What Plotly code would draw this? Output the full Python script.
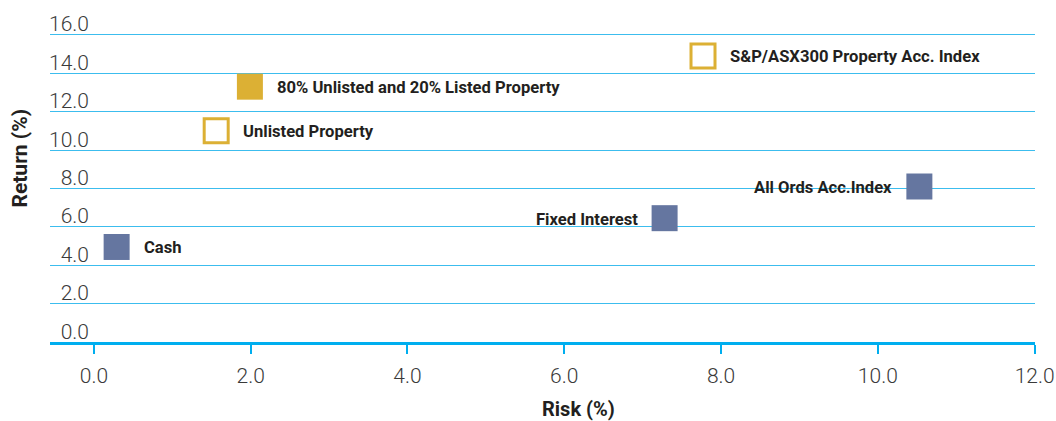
import plotly.graph_objects as go

# ---- data ----
names = ["Cash", "80% Unlisted and 20% Listed Property", "Unlisted Property",
         "S&P/ASX300 Property Acc. Index", "All Ords Acc.Index", "Fixed Interest"]
risk = [0.29, 1.99, 1.56, 7.77, 10.53, 7.28]
ret = [4.95, 13.3, 11.0, 14.9, 8.1, 6.45]
kind = ["filled_blue", "filled_gold", "open_gold", "open_gold", "filled_blue", "filled_blue"]
label_side = ["right", "right", "right", "right", "left", "left"]

x_ticks = [0, 2, 4, 6, 8, 10, 12]
y_ticks = [0, 2, 4, 6, 8, 10, 12, 14, 16]

BLUE = "#6576a0"
GOLD = "#dcb034"
CYAN = "#00aeef"
GRID = "#3cbdee"
TXT = "#231f20"
FONT = "Roboto, Liberation Sans, Arial, sans-serif"

fig = go.Figure()

for n, xv, yv, k in zip(names, risk, ret, kind):
    if k == "filled_blue":
        m = dict(symbol="square", size=26, color=BLUE, line=dict(width=0))
    elif k == "filled_gold":
        m = dict(symbol="square", size=26, color=GOLD, line=dict(width=0))
    else:
        m = dict(symbol="square-open", size=24, color=GOLD, line=dict(width=3))
    fig.add_trace(go.Scatter(x=[xv], y=[yv], mode="markers", marker=m,
                             name=n, showlegend=False, hoverinfo="skip", cliponaxis=False))

for n, xv, yv, s in zip(names, risk, ret, label_side):
    fig.add_annotation(x=xv, y=yv, xref="x", yref="y", text=n, showarrow=False,
                       xanchor="left" if s == "right" else "right",
                       yanchor="middle",
                       xshift=25 if s == "right" else -25, yshift=-1,
                       font=dict(family=FONT, size=16.6, color=TXT, weight="bold"))

fig.add_annotation(x=-0.0305, y=0.593, xref="paper", yref="paper", text="Return (%)",
                   textangle=-90, showarrow=False, xanchor="center", yanchor="middle",
                   font=dict(family=FONT, size=21, color=TXT, weight="bold"))
fig.add_annotation(x=0.537, y=-0.215, xref="paper", yref="paper", text="Risk (%)",
                   showarrow=False, xanchor="center", yanchor="middle",
                   font=dict(family=FONT, size=20, color=TXT, weight="bold"))

fig.update_xaxes(range=[-0.56, 12.005], tickvals=x_ticks,
                 ticktext=[f"{v:.1f}" for v in x_ticks],
                 showgrid=False, zeroline=False, automargin=False,
                 showline=True, linewidth=3, linecolor=CYAN,
                 ticks="outside", ticklen=9, tickwidth=2, tickcolor=CYAN,
                 ticklabelstandoff=4, ticklabeloverflow="allow",
                 tickfont=dict(family=FONT, size=21, color="#3a3a3a", weight=300))
fig.update_yaxes(range=[0, 16.2], tickvals=y_ticks,
                 ticktext=[f"{v:.1f}" for v in y_ticks],
                 showgrid=True, gridcolor=GRID, gridwidth=1, zeroline=False,
                 showline=False, ticks="", automargin=False,
                 ticklabelposition="outside top", ticklabelstandoff=-40,
                 ticklabelshift=4,
                 tickfont=dict(family=FONT, size=21, color="#3a3a3a", weight=300))

fig.update_layout(width=1056, height=421, margin=dict(l=50, r=21, t=31, b=79),
                  plot_bgcolor="white", paper_bgcolor="white")

fig.write_html("out.html")
